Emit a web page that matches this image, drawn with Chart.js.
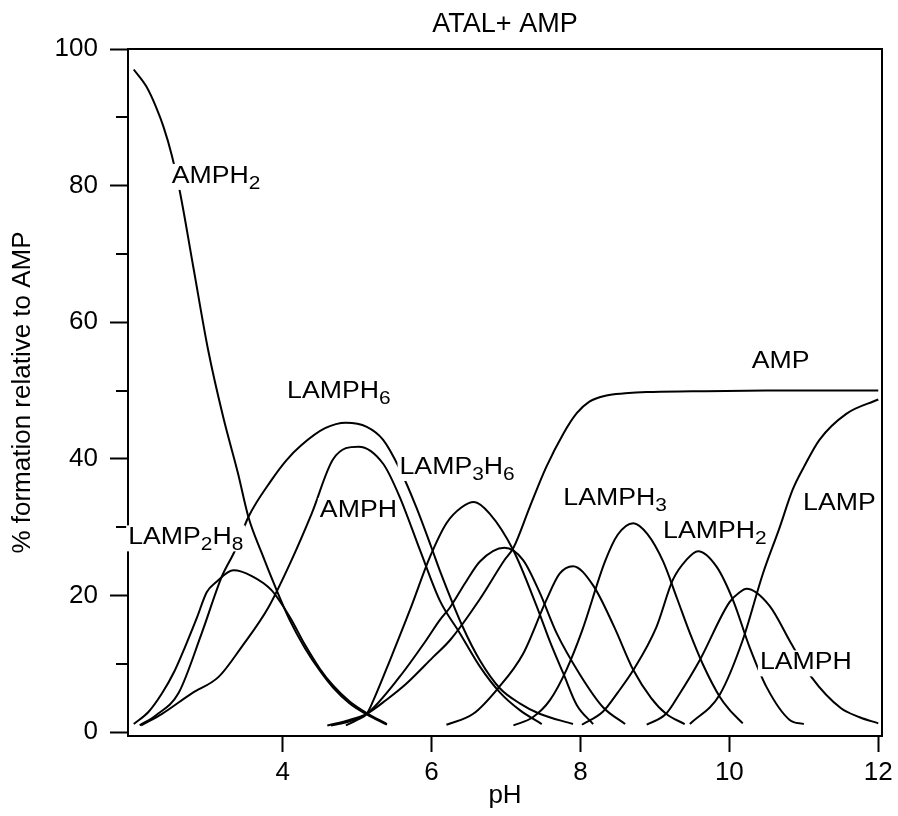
<!DOCTYPE html>
<html><head><meta charset="utf-8">
<script src="https://cdn.jsdelivr.net/npm/chart.js@4/dist/chart.umd.min.js"></script>
<style>html,body{margin:0;padding:0;background:#fff;}</style>
</head><body>
<canvas id="c" width="898" height="816"></canvas>
<script>
// ---- Data (pH vs % formation relative to AMP) ----
const titleText = 'ATAL+ AMP';
const xTitle = 'pH';
const yTitle = '% formation relative to AMP';
const xTicks = [4, 6, 8, 10, 12];
const yTicks = [0, 20, 40, 60, 80, 100];
const yMinorTicks = [10, 30, 50, 70, 90];

const phAMPH2  = [2.00,2.17,2.30,2.40,2.51,2.62,2.80,3.00,3.20,3.40,3.54,3.72,3.90,4.10,4.30,4.50,4.68,4.90,5.13,5.40];
const pctAMPH2 = [97.0,94.5,91.5,88.6,84.5,79.1,68.1,55.9,46.2,37.9,31.5,26.2,21.3,16.3,12.3,9.0,6.5,4.2,2.6,1.1];

const phLAMP2H8  = [2.00,2.20,2.38,2.55,2.69,2.85,2.98,3.10,3.34,3.58,3.85,4.10,4.30,4.50,4.68,4.90,5.13,5.40];
const pctLAMP2H8 = [1.2,3.0,5.7,9.0,12.5,16.8,20.5,21.9,23.7,22.9,20.8,16.8,12.8,9.3,6.8,4.5,2.8,1.2];

const phLAMPH6  = [2.08,2.30,2.60,2.91,3.18,3.36,3.54,3.85,4.05,4.25,4.57,4.85,5.13,5.35,5.57,5.80,6.00,6.11,6.42,6.65,6.92,7.19,7.45,7.90];
const pctLAMPH6 = [1.0,2.5,5.7,14.4,22.7,26.6,31.5,36.9,39.8,42.0,44.5,45.3,44.7,42.8,38.6,32.8,27.0,23.7,15.4,10.5,6.4,4.2,2.7,1.2];

const phAMPH  = [2.10,2.38,2.78,3.14,3.45,3.81,4.12,4.39,4.68,5.02,5.35,5.57,5.85,6.11,6.38,6.65,6.92,7.19,7.48];
const pctAMPH = [1.0,2.7,5.7,8.1,12.5,18.3,25.2,32.0,40.0,41.8,39.3,34.5,26.5,19.3,14.5,9.6,5.8,3.2,1.2];

const phLAMP3H6  = [4.85,5.00,5.13,5.22,5.44,5.71,5.98,6.20,6.40,6.57,6.78,7.10,7.41,7.60,7.77,7.95,8.17];
const pctLAMP3H6 = [1.0,1.8,2.7,4.7,10.5,17.9,25.7,30.6,32.9,33.7,32.0,26.6,18.5,13.0,8.6,4.0,1.2];

const phLAMPH5  = [4.65,4.90,5.13,5.57,5.93,6.11,6.25,6.45,6.65,6.98,7.23,7.45,7.68,7.99,8.30,8.60];
const pctLAMPH5 = [1.0,1.6,2.7,8.1,13.5,16.4,18.3,21.8,25.0,27.0,25.2,20.5,14.5,8.5,3.7,1.2];

const phAMP  = [4.60,4.90,5.13,5.40,5.66,6.02,6.25,6.65,6.98,7.10,7.32,7.54,7.77,7.95,8.12,8.35,8.60,8.89,9.50,10.50,12.00];
const pctAMP = [1.0,1.8,2.7,4.8,7.1,11.0,13.5,19.5,25.2,27.0,33.0,38.8,43.7,46.7,48.4,49.3,49.6,49.8,49.9,50.0,50.0];

const phLAMPH4  = [6.20,6.56,6.89,7.23,7.54,7.72,7.90,8.17,8.45,8.71,8.95,9.15,9.40];
const pctLAMPH4 = [1.1,2.7,6.4,11.5,19.3,23.2,24.3,21.5,15.5,9.1,5.0,2.7,1.2];

const phLAMPH3  = [7.10,7.36,7.59,7.81,8.02,8.33,8.50,8.71,8.90,9.11,9.30,9.47,9.65,9.87,10.00,10.18];
const pctLAMPH3 = [1.0,2.2,4.7,9.1,14.8,25.0,28.9,30.6,29.0,25.0,19.5,14.5,9.8,5.2,3.3,1.3];

const phLAMPH2  = [8.02,8.30,8.50,8.71,9.02,9.24,9.42,9.58,9.83,10.05,10.27,10.50,10.81,11.00];
const pctLAMPH2 = [1.1,3.0,5.8,9.1,15.4,22.3,25.2,26.5,24.2,19.3,12.5,6.6,1.8,1.2];

const phLAMPH  = [8.89,9.15,9.33,9.60,10.00,10.14,10.23,10.54,10.83,11.10,11.50,11.75,12.00];
const pctLAMPH = [1.1,2.7,5.6,10.5,19.0,20.5,21.0,18.5,13.0,8.1,3.5,2.2,1.3];

const phLAMP  = [9.47,9.87,10.18,10.45,10.67,10.85,11.00,11.21,11.57,12.00];
const pctLAMP = [1.2,5.5,13.5,23.2,29.8,35.5,38.8,42.8,46.6,48.7];

// curve labels: text parts (1 = subscript), anchored at left/baseline in data units
const curveLabels = [
  {parts:[['AMPH',0],['2',1]],             x:2.51,  y:80.4},
  {parts:[['LAMPH',0],['6',1]],            x:4.06,  y:48.9},
  {parts:[['LAMP',0],['2',1],['H',0],['8',1]], x:1.925, y:27.5},
  {parts:[['AMPH',0]],                     x:4.50,  y:31.5},
  {parts:[['LAMP',0],['3',1],['H',0],['6',1]], x:5.57, y:37.8},
  {parts:[['LAMPH',0],['3',1]],            x:7.77,  y:33.2},
  {parts:[['LAMPH',0],['2',1]],            x:9.11,  y:28.4},
  {parts:[['LAMP',0]],                     x:10.99, y:32.5},
  {parts:[['LAMPH',0]],                    x:10.41, y:9.2},
  {parts:[['AMP',0]],                      x:10.30, y:53.3}
];

const series = [
  [phAMPH2, pctAMPH2], [phLAMP2H8, pctLAMP2H8], [phLAMPH6, pctLAMPH6], [phAMPH, pctAMPH],
  [phLAMP3H6, pctLAMP3H6], [phLAMPH5, pctLAMPH5], [phAMP, pctAMP], [phLAMPH4, pctLAMPH4],
  [phLAMPH3, pctLAMPH3], [phLAMPH2, pctLAMPH2], [phLAMPH, pctLAMPH], [phLAMP, pctLAMP]
];

const FAM = "'Liberation Sans', Arial, sans-serif";

const datasets = series.map(([ph, pct]) => ({
  data: ph.map((v, i) => ({x: v, y: pct[i]})),
  borderColor: '#000', borderWidth: 2, pointRadius: 0, fill: false,
  cubicInterpolationMode: 'monotone'
}));

const overlay = {
  id: 'overlay',
  afterDraw(chart) {
    const {ctx, chartArea: a, scales: {x, y}} = chart;
    ctx.save();
    ctx.strokeStyle = '#000';
    ctx.lineWidth = 2;
    // minor y ticks
    yMinorTicks.forEach(v => {
      const py = Math.round(y.getPixelForValue(v));
      ctx.beginPath(); ctx.moveTo(a.left - 12, py); ctx.lineTo(a.left, py); ctx.stroke();
    });
    // curve labels
    const SX = 1.16;
    const MAIN = `23px ${FAM}`, SUB = `18px ${FAM}`;
    curveLabels.forEach(lb => {
      const px = x.getPixelForValue(lb.x), py = y.getPixelForValue(lb.y);
      let w = 0;
      lb.parts.forEach(([t, s]) => { ctx.font = s ? SUB : MAIN; w += ctx.measureText(t).width * SX; });
      ctx.fillStyle = '#fff';
      ctx.fillRect(px - 2, py - 19, w + 4, 26);
      let cx = px;
      lb.parts.forEach(([t, s]) => {
        ctx.font = s ? SUB : MAIN;
        const tw = ctx.measureText(t).width;
        ctx.save();
        ctx.translate(cx, py + (s ? 6 : 0));
        ctx.scale(SX, 1);
        ctx.fillStyle = '#000';
        ctx.textAlign = 'left';
        ctx.textBaseline = 'alphabetic';
        ctx.fillText(t, 0, 0);
        ctx.restore();
        cx += tw * SX;
      });
    });
    // top and right frame
    ctx.strokeStyle = '#000';
    ctx.lineWidth = 2;
    ctx.beginPath();
    ctx.moveTo(a.left, a.top); ctx.lineTo(a.right, a.top); ctx.lineTo(a.right, a.bottom);
    ctx.stroke();
    // title
    ctx.fillStyle = '#000';
    ctx.font = `27px ${FAM}`;
    ctx.textAlign = 'center';
    ctx.textBaseline = 'alphabetic';
    ctx.fillText(titleText, (a.left + a.right) / 2, 32);
    ctx.restore();
  }
};

new Chart(document.getElementById('c'), {
  type: 'line',
  data: {datasets},
  plugins: [overlay],
  options: {
    responsive: false,
    animation: false,
    layout: {padding: {top: 49, right: 16, bottom: 0, left: 0}},
    plugins: {legend: {display: false}, tooltip: {enabled: false}, title: {display: false}},
    scales: {
      x: {
        type: 'linear', min: 1.923, max: 12.05,
        afterBuildTicks: s => { s.ticks = xTicks.map(v => ({value: v})); },
        afterFit: s => { s.height = 80; },
        grid: {drawOnChartArea: false, drawTicks: true, tickLength: 16, tickWidth: 2, tickColor: '#000'},
        border: {display: true, color: '#000', width: 2},
        ticks: {color: '#000', font: {family: FAM, size: 26}, padding: 5, maxRotation: 0, autoSkip: false},
        title: {display: true, text: xTitle, color: '#000', font: {family: FAM, size: 26}, padding: {top: 0, bottom: 5}}
      },
      y: {
        type: 'linear', min: -0.55, max: 100,
        afterBuildTicks: s => { s.ticks = yTicks.map(v => ({value: v})); },
        afterFit: s => { s.width = 128; },
        grid: {drawOnChartArea: false, drawTicks: true, tickLength: 18, tickWidth: 2, tickColor: '#000'},
        border: {display: true, color: '#000', width: 2},
        ticks: {color: '#000', font: {family: FAM, size: 26}, padding: 12, autoSkip: false},
        title: {display: true, text: yTitle, color: '#000', font: {family: FAM, size: 26}, padding: {top: 7, bottom: 0}}
      }
    }
  }
});
</script>
</body></html>
